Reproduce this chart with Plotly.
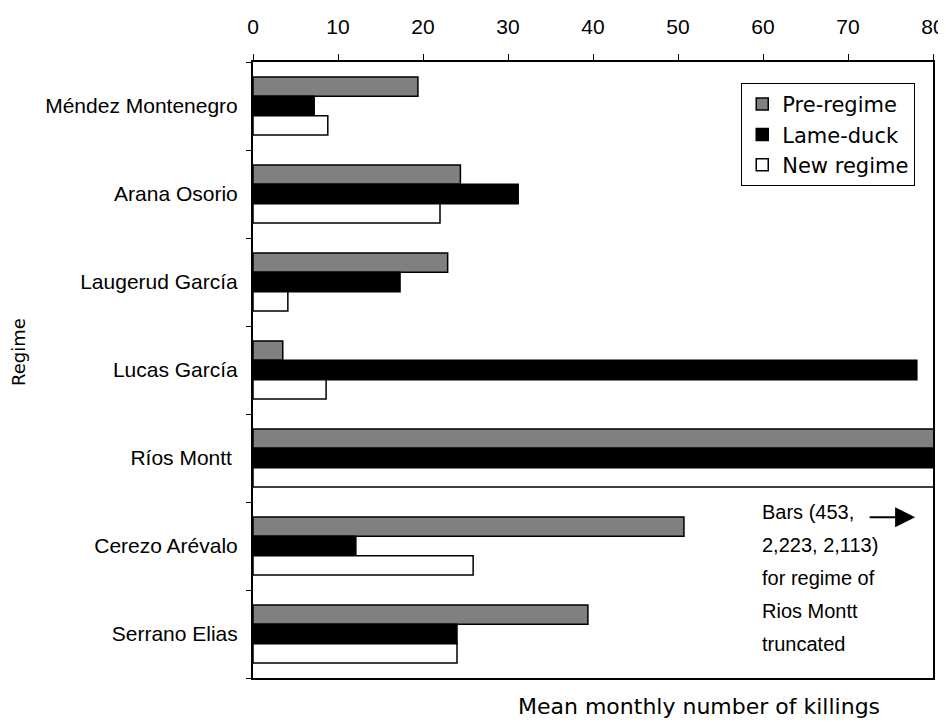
import plotly.graph_objects as go

regimes = ["Méndez Montenegro", "Arana Osorio", "Laugerud García", "Lucas García",
           "Ríos Montt", "Cerezo Arévalo", "Serrano Elias"]
regime_labels = ["Méndez Montenegro", "Arana Osorio", "Laugerud García", "Lucas García",
                 "Ríos Montt\u00a0", "Cerezo Arévalo", "Serrano Elias"]
pre_regime = [19.4, 24.4, 22.9, 3.5, 453, 50.7, 39.4]
lame_duck = [7.2, 31.2, 17.3, 78.1, 2223, 12.1, 24.0]
new_regime = [8.8, 22.0, 4.1, 8.6, 2113, 25.9, 24.0]
series_names = ["Pre-regime", "Lame-duck", "New regime"]
series_colors = ["#808080", "#000000", "#ffffff"]
x_ticks = [0, 10, 20, 30, 40, 50, 60, 70, 80]
note_lines = ["Bars (453,", "2,223, 2,113)", "for regime of", "Rios Montt", "truncated"]

fig = go.Figure()
for name, vals, col in zip(series_names, [pre_regime, lame_duck, new_regime], series_colors):
    fig.add_trace(go.Bar(
        y=regimes, x=vals, name=name, orientation="h",
        marker=dict(color=col, line=dict(color="#000000", width=1.5)),
    ))

annotations = []
for i, line in enumerate(note_lines):
    annotations.append(dict(
        text=line, xref="x", yref="paper", x=59.7, y=0.269 - i * 0.0535,
        xanchor="left", yanchor="middle", showarrow=False,
        font=dict(family="Liberation Sans, Arial", size=20, color="#000"),
    ))
annotations.append(dict(
    text="", xref="x", yref="paper", axref="pixel", ayref="pixel",
    x=77.9, y=0.261, ax=-47, ay=0, showarrow=True,
    arrowhead=2, arrowsize=2.0, arrowwidth=2, arrowcolor="#000",
))
annotations.append(dict(
    text="Mean monthly number of killings", xref="paper", yref="paper",
    x=(699 - 253) / 680, y=-0.047, xanchor="center", yanchor="middle",
    showarrow=False, font=dict(family="DejaVu Sans", size=22, color="#000"),
))
annotations.append(dict(
    text="Regime", xref="paper", yref="paper",
    x=-(253 - 18) / 680, y=(678 - 352) / 616, xanchor="center", yanchor="middle",
    textangle=-90, showarrow=False,
    font=dict(family="DejaVu Sans", size=18, color="#000"),
))

fig.update_layout(
    width=938, height=717,
    margin=dict(l=245, r=13, t=54, b=47, autoexpand=False),
    paper_bgcolor="white", plot_bgcolor="white",
    barmode="group", bargap=0.34, bargroupgap=0,
    showlegend=True,
    legend=dict(
        x=0.718, y=0.966, xanchor="left", yanchor="top",
        bgcolor="white", bordercolor="#000", borderwidth=1,
        font=dict(family="DejaVu Sans", size=21, color="#000"),
        traceorder="normal",
    ),
    xaxis=dict(
        side="top", range=[0, 80], tickvals=x_ticks, automargin=False,
        showgrid=False, zeroline=False,
        showline=True, linecolor="#000", linewidth=2, mirror=True,
        ticks="outside", ticklen=6, tickcolor="#000", ticklabelstandoff=12,
        tickfont=dict(family="Liberation Sans, Arial", size=21, color="#000"),
    ),
    yaxis=dict(
        autorange="reversed", tickvals=regimes, ticktext=regime_labels,
        tickson="boundaries", automargin=False,
        showgrid=False, zeroline=False,
        showline=True, linecolor="#000", linewidth=2, mirror=True,
        ticks="outside", ticklen=5, tickcolor="#000", ticklabelstandoff=9,
        tickfont=dict(family="Liberation Sans, Arial", size=21, color="#000"),
    ),
    annotations=annotations,
)

fig.write_html("out.html")
